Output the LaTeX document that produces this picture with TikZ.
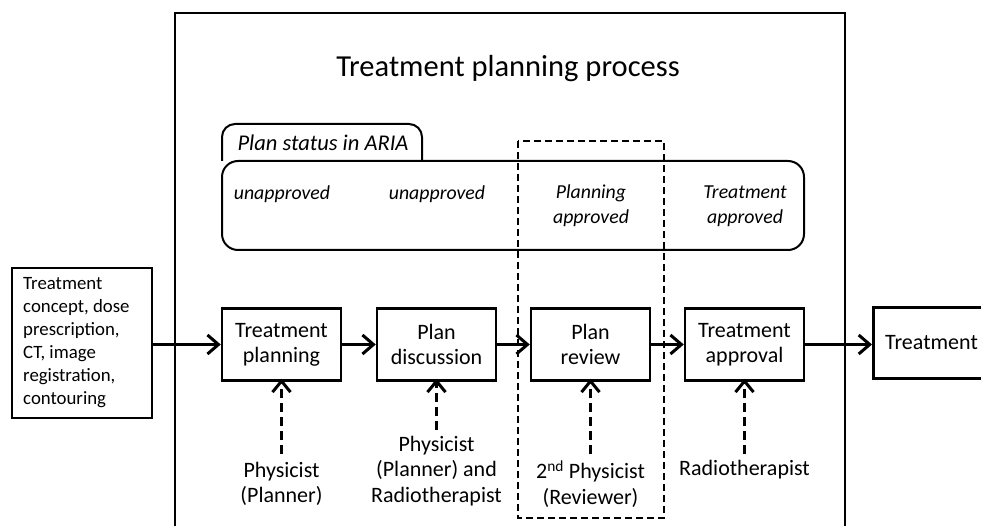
\documentclass[tikz,border=0pt]{standalone}
\usepackage{fontspec}
\setmainfont{Carlito}
\usetikzlibrary{arrows.meta}
\begin{document}
\begin{tikzpicture}[x=1pt,y=-1pt,
  proc/.style={draw,line width=2.5pt,minimum width=119pt,minimum height=72pt,align=center,inner sep=0pt,font=\fontsize{22}{25}\selectfont},
  flow/.style={line width=3pt,-{Straight Barb[length=11pt,width=19pt]}},
  roleflow/.style={line width=3pt,dash pattern=on 9pt off 5pt,-{Straight Barb[length=11pt,width=18pt]}},
  rolelab/.style={align=center,inner sep=0pt,font=\fontsize{22}{25.5}\selectfont},
  status/.style={align=center,inner sep=0pt,font=\fontsize{19.8}{25}\selectfont\itshape},
]
\useasboundingbox (0,0) rectangle (981,526);
% outer frame
\draw[line width=2pt] (175,540) -- (175,13) -- (845,13) -- (845,540);
\node[font=\fontsize{30.5}{34}\selectfont,inner sep=0pt] (title) at (508,69) {Treatment planning process};
% status box
\draw[line width=2pt,rounded corners=13pt] (222,161) -- (222,124) -- (422,124) -- (422,161);
\draw[line width=2pt,rounded corners=16pt] (222,161) rectangle (804,250);
\node[status,font=\fontsize{22.5}{25}\selectfont\itshape] (tab) at (323,143) {Plan status in ARIA};
\node[status] (s1) at (282,194) {unapproved};
\node[status] (s2) at (437,194) {unapproved};
\node[status] (s3) at (591,206) {Planning\\approved};
\node[status] (s4) at (745,206) {Treatment\\approved};
% input / output
\node[draw,line width=2.5pt,minimum width=140pt,minimum height=150pt,inner sep=0pt] (in) at (82,343) {};
\node[anchor=north west,align=left,inner sep=0pt,font=\fontsize{18.8}{23}\selectfont] (intext) at (23,277) {Treatment\\concept, dose\\prescription,\\CT, image\\registration,\\contouring};
\node[draw,line width=2.5pt,minimum width=120pt,minimum height=71pt,inner sep=0pt,anchor=west] (out) at (872,343) {};
\node[anchor=west,inner sep=0pt,font=\fontsize{22}{25}\selectfont] (outtext) at (885,343) {Treatment};
% process boxes
\node[proc] (tp) at (281.5,344.5) {Treatment\\planning};
\node[proc] (pd) at (436.5,344.5) {Plan\\discussion};
\node[proc] (pr) at (590.5,344.5) {Plan\\review};
\node[proc] (ta) at (744.5,344.5) {Treatment\\approval};
% flow
\draw[flow] (in.east |- tp.west) -- (tp.west);
\draw[flow] (tp) -- (pd);
\draw[flow] (pd) -- (pr);
\draw[flow] (pr) -- (ta);
\draw[flow] (ta.east) -- (out.west |- ta.east);
% roles
\node[rolelab] (r1) at (281.5,484) {Physicist\\(Planner)};
\node[rolelab] (r2) at (436.5,471) {Physicist\\(Planner) and\\Radiotherapist};
\node[rolelab] (r3) at (590.5,484) {2\textsuperscript{nd} Physicist\\(Reviewer)};
\node[rolelab] (r4) at (744.5,470) {Radiotherapist};
\coordinate (c1) at (281.5,454);
\coordinate (c2) at (436.5,430);
\coordinate (c3) at (590.5,454);
\coordinate (c4) at (744.5,454);
\draw[roleflow] (c1) -- ([yshift=3pt]tp.south);
\draw[roleflow] (c2) -- ([yshift=3pt]pd.south);
\draw[roleflow] (c3) -- ([yshift=3pt]pr.south);
\draw[roleflow] (c4) -- ([yshift=3pt]ta.south);
% dashed highlight
\draw[line width=2pt,dash pattern=on 7pt off 4pt] (518,141) rectangle (664,518);
\end{tikzpicture}
\end{document}
